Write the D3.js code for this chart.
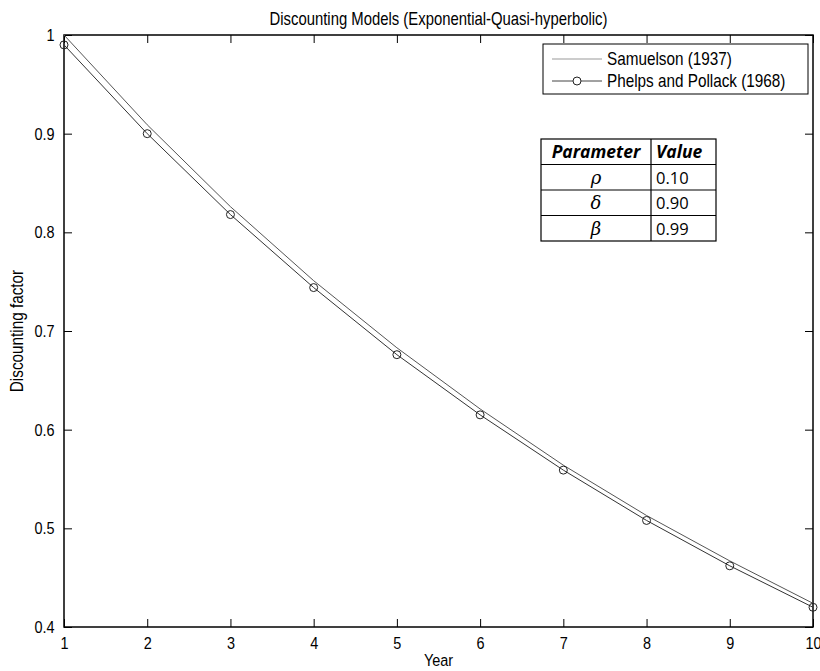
<!DOCTYPE html>
<html>
<head>
<meta charset="utf-8">
<script src="https://d3js.org/d3.v7.min.js"></script>
<style>
  body { margin: 0; background: white; }
  svg { display: block; font-family: "Liberation Sans", Arial, sans-serif; }
</style>
</head>
<body>
<div class="chart"></div>
<script>
let w = 820;
let h = 671;
let margin = { top: 35, right: 7, bottom: 44, left: 64 };
let squeeze = 0.85; // matlab's helvetica looks narrow

const years = [1, 2, 3, 4, 5, 6, 7, 8, 9, 10];
const samuelson = [1.000, 0.909, 0.826, 0.751, 0.683, 0.621, 0.564, 0.513, 0.467, 0.424];
const phelps = [0.990, 0.900, 0.818, 0.744, 0.676, 0.615, 0.559, 0.508, 0.462, 0.420];
const yTicks = [0.4, 0.5, 0.6, 0.7, 0.8, 0.9, 1];
const legendNames = ["Samuelson (1937)", "Phelps and Pollack (1968)"];
const paramNames = ["\u03C1", "\u03B4", "\u03B2"];
const paramValues = ["0.10", "0.90", "0.99"];

const svg = d3.select(".chart")
              .append("svg")
              .attr("width", w)
              .attr("height", h);

const xScale = d3.scaleLinear()
                 .domain([1, 10])
                 .range([margin.left, w - margin.right]);

const yScale = d3.scaleLinear()
                 .domain([0.4, 1])
                 .range([h - margin.bottom, margin.top]);

const plotL = margin.left, plotR = w - margin.right;
const plotT = margin.top, plotB = h - margin.bottom;

// narrow text placed at x,y
function narrowText(parent, x, y, size, str, anchor) {
  return parent.append("text")
               .attr("transform", "translate(" + x + "," + y + ") scale(" + squeeze + ",1)")
               .attr("text-anchor", anchor || "start")
               .style("font-size", size + "px")
               .text(str);
}

// axes with inward ticks, like matlab's box
const xAxis = d3.axisBottom(xScale).tickValues(years).tickSize(-8).tickPadding(10).tickFormat(d3.format("d"));
const xAxisTop = d3.axisTop(xScale).tickValues(years).tickSize(-8).tickFormat("");
const yAxis = d3.axisLeft(yScale).tickValues(yTicks).tickSize(-8).tickPadding(11).tickFormat((d) => d === 1 ? "1" : d3.format(".1f")(d));
const yAxisRight = d3.axisRight(yScale).tickValues(yTicks).tickSize(-8).tickFormat("");

function styleAxis(g) {
  g.select(".domain").remove();
  g.selectAll(".tick line").attr("stroke", "#000").attr("stroke-width", 1);
  g.selectAll(".tick text").attr("fill", "#000")
   .style("font-size", "17px")
   .attr("transform", "scale(" + squeeze + ",1)");
}

svg.append("g").attr("transform", "translate(0," + plotB + ")").call(xAxis).call(styleAxis);
svg.append("g").attr("transform", "translate(0," + plotT + ")").call(xAxisTop).call(styleAxis);
svg.append("g").attr("transform", "translate(" + plotL + ",0)").call(yAxis).call(styleAxis);
svg.append("g").attr("transform", "translate(" + plotR + ",0)").call(yAxisRight).call(styleAxis);

svg.append("rect")
   .attr("x", plotL).attr("y", plotT)
   .attr("width", plotR - plotL).attr("height", plotB - plotT)
   .attr("fill", "none").attr("stroke", "#000").attr("stroke-width", 1.5);

// curves
const line = d3.line()
               .x((d) => xScale(d[0]))
               .y((d) => yScale(d[1]));

svg.append("path")
   .datum(years.map((y, i) => [y, samuelson[i]]))
   .attr("d", line)
   .attr("fill", "none").attr("stroke", "#555").attr("stroke-width", 1);

svg.append("path")
   .datum(years.map((y, i) => [y, phelps[i]]))
   .attr("d", line)
   .attr("fill", "none").attr("stroke", "#333").attr("stroke-width", 1);

svg.selectAll(".dot")
   .data(years.map((y, i) => [y, phelps[i]]))
   .enter()
   .append("circle")
   .attr("class", "dot")
   .attr("cx", (d) => xScale(d[0]))
   .attr("cy", (d) => yScale(d[1]))
   .attr("r", 4)
   .attr("fill", "none")
   .attr("stroke", "#222")
   .attr("stroke-width", 1);

// titles
narrowText(svg, (plotL + plotR) / 2, 25, 17.5, "Discounting Models (Exponential-Quasi-hyperbolic)", "middle");
narrowText(svg, (plotL + plotR) / 2, 666, 17, "Year", "middle");

svg.append("text")
   .attr("transform", "translate(23," + ((plotT + plotB) / 2) + ") rotate(-90) scale(" + squeeze + ",1)")
   .attr("text-anchor", "middle")
   .style("font-size", "18px")
   .text("Discounting factor");

// legend
const legend = svg.append("g").attr("transform", "translate(543,44)");
legend.append("rect")
      .attr("width", 265).attr("height", 50)
      .attr("fill", "white").attr("stroke", "#000").attr("stroke-width", 1);

legend.selectAll("legendlines")
      .data(legendNames)
      .enter()
      .append("line")
      .attr("x1", 9).attr("x2", 59)
      .attr("y1", (d, i) => 15 + i * 22).attr("y2", (d, i) => 15 + i * 22)
      .attr("stroke", (d, i) => i === 0 ? "#999" : "#444")
      .attr("stroke-width", 1);

legend.append("circle")
      .attr("cx", 34).attr("cy", 37).attr("r", 4)
      .attr("fill", "white").attr("stroke", "#222");

legendNames.forEach((d, i) => narrowText(legend, 64, 21 + i * 22, 18, d));

// parameter table
const tx = 541, ty = 139, colW = [110, 65], rowH = 25.5;
const table = svg.append("g").attr("transform", "translate(" + tx + "," + ty + ")");
const rows = [["Parameter", "Value"]].concat(paramNames.map((p, i) => [p, paramValues[i]]));

table.append("rect")
     .attr("width", colW[0] + colW[1]).attr("height", rowH * rows.length)
     .attr("fill", "white").attr("stroke", "#000").attr("stroke-width", 1.2);

table.selectAll(".hline")
     .data(d3.range(1, rows.length))
     .enter()
     .append("line")
     .attr("x1", 0).attr("x2", colW[0] + colW[1])
     .attr("y1", (d) => d * rowH).attr("y2", (d) => d * rowH)
     .attr("stroke", "#000").attr("stroke-width", 1.2);

table.append("line")
     .attr("x1", colW[0]).attr("x2", colW[0])
     .attr("y1", 0).attr("y2", rowH * rows.length)
     .attr("stroke", "#000").attr("stroke-width", 1.2);

rows.forEach((r, i) => {
  table.append("text")
       .attr("x", colW[0] / 2).attr("y", i * rowH + 19)
       .attr("text-anchor", "middle")
       .style("font-family", i === 0 ? "'Open Sans', sans-serif" : "'DejaVu Serif', serif")
       .style("font-size", i === 0 ? "17.5px" : "18px")
       .style("font-weight", i === 0 ? "bold" : "normal")
       .style("font-style", "italic")
       .text(r[0]);
  table.append("text")
       .attr("x", colW[0] + 5).attr("y", i * rowH + 19)
       .style("font-family", "'Open Sans', sans-serif")
       .style("font-size", i === 0 ? "17.5px" : "16.5px")
       .style("font-weight", i === 0 ? "bold" : "normal")
       .style("font-style", i === 0 ? "italic" : "normal")
       .text(r[1]);
});
</script>
</body>
</html>
